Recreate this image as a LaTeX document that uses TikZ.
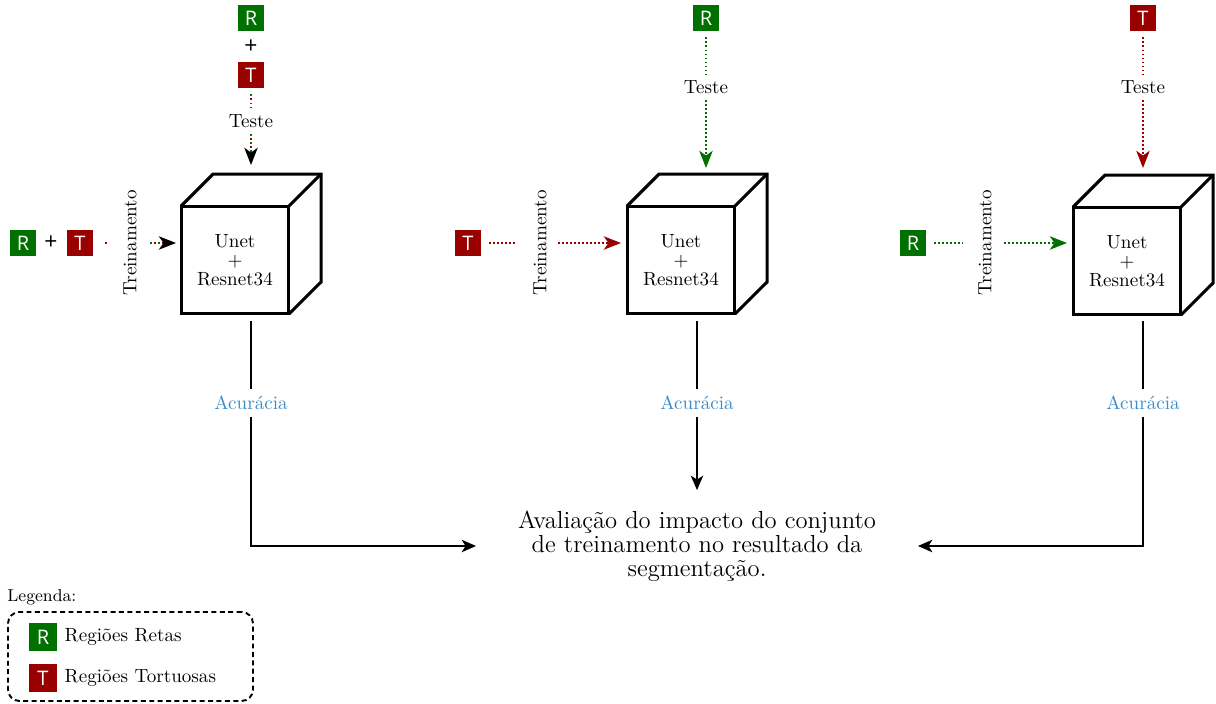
\documentclass[tikz,border=0pt]{standalone}
\usepackage{fontspec}
\newfontfamily\sqfont{Open Sans}
\usetikzlibrary{arrows.meta,calc}
\definecolor{rgreen}{RGB}{0,112,0}
\definecolor{tred}{RGB}{153,0,0}
\definecolor{accblue}{RGB}{60,140,200}
\begin{document}
\begin{tikzpicture}[x=0.5236pt,y=-0.5236pt,
  sq/.style={minimum size=14pt, inner sep=0pt, font=\sqfont\fontsize{10.5}{10.5}\selectfont, text=white},
  gsq/.style={sq, fill=rgreen},
  rsq/.style={sq, fill=tred},
  plus/.style={font=\sqfont\fontsize{12}{12}\selectfont},
  lbl/.style={font=\fontsize{10}{12}\selectfont},
  trein/.style={lbl, rotate=90},
  front/.style={draw, line width=1.6pt, minimum size=56.5pt, inner sep=0pt, outer sep=0pt, fill=white, align=center, font=\fontsize{10}{9.8}\selectfont},
  cubeedge/.style={line width=1.6pt},
  acc/.style={lbl, text=accblue},
  gdot/.style={rgreen, line width=1.1pt, dash pattern=on 1pt off 1.1pt},
  rdot/.style={tred, line width=1.1pt, dash pattern=on 1pt off 1.1pt},
  gdotx/.style={rgreen, line width=1.1pt, dash pattern=on 1pt off 3.2pt},
  rdotx/.style={tred, line width=1.1pt, dash pattern=on 1pt off 3.2pt, dash phase=2.1pt},
  tipk/.style={-{Stealth[length=9pt,width=7pt,inset=2.5pt,black]}},
  tipg/.style={-{Stealth[length=9pt,width=7pt,inset=2.5pt,rgreen]}},
  tipr/.style={-{Stealth[length=9pt,width=7pt,inset=2.5pt,tred]}},
  solidline/.style={line width=1.1pt},
  flow/.style={line width=1.1pt, -{Stealth[length=7.5pt,width=6.5pt,inset=2pt]}},
  evaltext/.style={font=\fontsize{12.9}{12.7}\selectfont, align=center, minimum width=231.4pt, minimum height=58.6pt, inner sep=0pt, outer sep=0pt}
]
\useasboundingbox (0,0) rectangle (1216,704);

% ---------- Panel 1 ----------
\node[gsq] (r1) at (251,18) {R};
\node[plus] (p1) at (251,47) {+};
\node[rsq] (t1) at (251,75) {T};
\node[lbl] (te1) at (251,121) {Teste};
\coordinate (a1) at (251,165);
\draw[gdotx, shorten <=3pt] (t1) -- (te1);
\draw[rdotx, shorten <=3pt] (t1) -- (te1);
\draw[gdotx, shorten >=7pt] (te1) -- (a1);
\draw[rdotx, tipk] (te1) -- (a1);

\node[gsq] (lr1) at (23,243) {R};
\node[plus] (lp1) at (51,243) {+};
\node[rsq] (lt1) at (80,243) {T};
\node[trein] (tr1) at (130,243) {Treinamento};
\coordinate (tr1a) at (108,243);
\coordinate (tr1b) at (150,243);
\coordinate (in1) at (176,243);
\draw[rdot, shorten <=6pt] (lt1) -- (tr1a);
\draw[gdotx, shorten >=7pt] (tr1b) -- (in1);
\draw[rdotx, tipk] (tr1b) -- (in1);

\node[front] (c1) at (235,260) {Unet\\+\\Resnet34};
\draw[cubeedge] (c1.north west) -- ++(32,-32) -- ++(108,0) -- ++(0,108) -- (c1.south east);
\draw[cubeedge] (c1.north east) -- ++(32,-32);

\coordinate (b1) at (251,321);
\node[acc] (acc1) at (251,403) {Acurácia};
\draw[solidline] (b1) -- (acc1);

% ---------- Panel 2 ----------
\node[gsq] (r2) at (706,18) {R};
\node[lbl] (te2) at (706,87) {Teste};
\coordinate (a2) at (706,168);
\draw[gdot, shorten <=3pt] (r2) -- (te2);
\draw[gdot, tipg] (te2) -- (a2);

\node[rsq] (lt2) at (468,243) {T};
\node[trein] (tr2) at (540,243) {Treinamento};
\coordinate (tr2a) at (517,243);
\coordinate (tr2b) at (558,243);
\coordinate (in2) at (621,243);
\draw[rdot, shorten <=4pt] (lt2) -- (tr2a);
\draw[rdot, tipr] (tr2b) -- (in2);

\node[front] (c2) at (681,260) {Unet\\+\\Resnet34};
\draw[cubeedge] (c2.north west) -- ++(32,-32) -- ++(108,0) -- ++(0,108) -- (c2.south east);
\draw[cubeedge] (c2.north east) -- ++(32,-32);

\coordinate (b2) at (697,321);
\node[acc] (acc2) at (697,403) {Acurácia};
\draw[solidline] (b2) -- (acc2);

% ---------- Panel 3 ----------
\node[rsq] (t3) at (1143,18) {T};
\node[lbl] (te3) at (1143,87) {Teste};
\coordinate (a3) at (1143,168);
\draw[rdot, shorten <=3pt] (t3) -- (te3);
\draw[rdot, tipr] (te3) -- (a3);

\node[gsq] (lr3) at (913,243) {R};
\node[trein] (tr3) at (985,243) {Treinamento};
\coordinate (tr3a) at (963,243);
\coordinate (tr3b) at (1004,243);
\coordinate (in3) at (1067,243);
\draw[gdot, shorten <=4pt] (lr3) -- (tr3a);
\draw[gdot, tipg] (tr3b) -- (in3);

\node[front] (c3) at (1127,261) {Unet\\+\\Resnet34};
\draw[cubeedge] (c3.north west) -- ++(32,-32) -- ++(108,0) -- ++(0,108) -- (c3.south east);
\draw[cubeedge] (c3.north east) -- ++(32,-32);

\coordinate (b3) at (1143,321);
\node[acc] (acc3) at (1143,403) {Acurácia};
\draw[solidline] (b3) -- (acc3);

% ---------- Evaluation ----------
\node[evaltext] (eval) at (697,546) {Avaliação do impacto do conjunto\\de treinamento no resultado da\\segmentação.};
\draw[flow] (acc1) |- (eval.west);
\draw[flow] (acc2) -- (eval.north);
\draw[flow] (acc3) |- (eval.east);

% ---------- Legend ----------
\node[font=\fontsize{9}{10}\selectfont, anchor=west, inner sep=0pt] (legt) at (7,597) {Legenda:};
\node[draw, dash pattern=on 2.6pt off 1.8pt, line width=1pt, rounded corners=6pt, minimum width=128.3pt, minimum height=46.6pt, inner sep=0pt] (legbox) at (130.5,656.5) {};
\node[gsq, minimum size=15pt] (lgr) at (43,637) {R};
\node[lbl, anchor=west] (lgrt) at (58,637) {Regiões Retas};
\node[rsq, minimum size=15pt] (lgt) at (43,678) {T};
\node[lbl, anchor=west] (lgtt) at (58,678) {Regiões Tortuosas};
\end{tikzpicture}
\end{document}
